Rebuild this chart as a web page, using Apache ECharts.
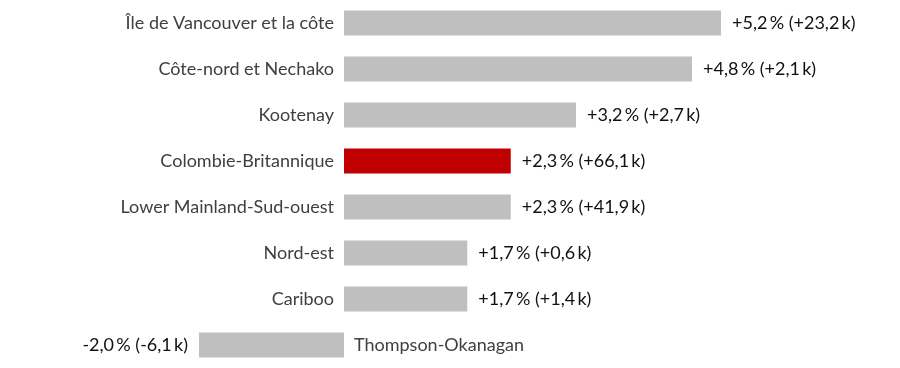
<!DOCTYPE html>
<html>
<head>
<meta charset="utf-8">
<script src="https://cdn.jsdelivr.net/npm/echarts@6/dist/echarts.min.js"></script>
<style>html,body{margin:0;padding:0;background:#fff}#c{width:900px;height:368px}</style>
</head>
<body>
<div id="c"></div>
<script>
const categories = ["Île de Vancouver et la côte","Côte-nord et Nechako","Kootenay","Colombie-Britannique","Lower Mainland-Sud-ouest","Nord-est","Cariboo","Thompson-Okanagan"];
const pctChange = [5.2, 4.8, 3.2, 2.3, 2.3, 1.7, 1.7, -2.0];
const absChangeK = [23.2, 2.1, 2.7, 66.1, 41.9, 0.6, 1.4, -6.1];
const highlight = "Colombie-Britannique";

function fmt(v){ const s = (v>=0?'+':'-') + Math.abs(v).toFixed(1).replace('.', ','); return s; }
const FONT = 'Lato';
const chart = echarts.init(document.getElementById('c'));
chart.setOption({
  animation:false,
  grid:{left:199, right:179, top:0, bottom:0},
  xAxis:{type:'value', min:-2, max:5.2, show:false},
  yAxis:{type:'category', data:categories, inverse:true, show:false},
  series:[
    {
      type:'bar', barWidth:25,
      data: pctChange.map((v,i)=>({
        value:v,
        itemStyle:{color: categories[i]===highlight ? '#C00000' : '#BFBFBF'},
        label:{position: v>=0 ? 'right':'left'}
      })),
      label:{show:true, distance:11, fontFamily:FONT, fontSize:18, color:'#111',
        formatter:p=>fmt(pctChange[p.dataIndex])+'\u2009% ('+fmt(absChangeK[p.dataIndex])+'\u2009k)'}
    },
    {
      type:'bar', barWidth:25, barGap:'-100%',
      data: pctChange.map((v,i)=>({value:v, label:{position: v>=0 ? 'left':'right'}})),
      itemStyle:{color:'rgba(0,0,0,0)'},
      label:{show:true, distance:10, fontFamily:FONT, fontSize:18, color:'#404040',
        formatter:p=>categories[p.dataIndex]},
      silent:true
    }
  ]
});
</script>
</body>
</html>
